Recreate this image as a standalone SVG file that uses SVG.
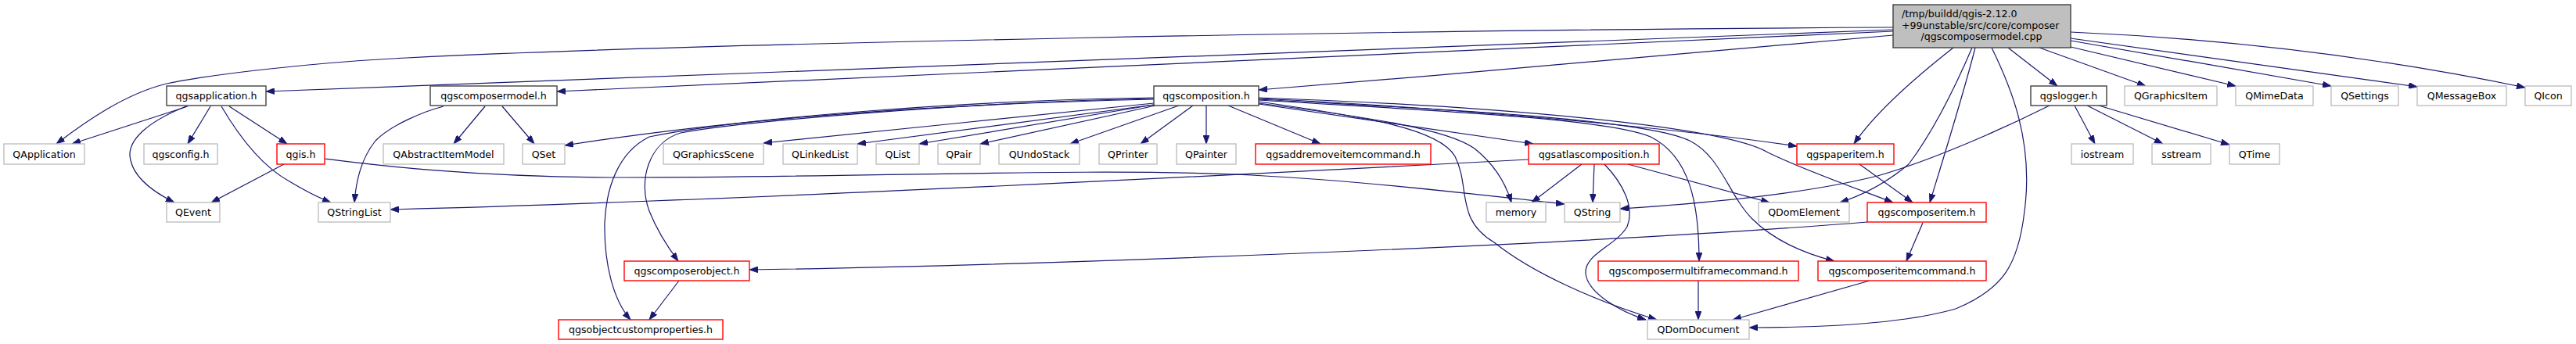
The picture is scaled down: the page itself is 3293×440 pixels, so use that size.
<svg xmlns="http://www.w3.org/2000/svg" width="3293" height="440" viewBox="0 0 3293 440">
<style>
.e{fill:none;stroke:#191970;stroke-width:1.2}
.n rect{fill:#ffffff;stroke-width:1.4}
.doc rect{stroke:#404040}
.grey rect{stroke:#bfbfbf}
.red rect{stroke:#ff0000}
.main rect{fill:#bfbfbf;stroke:#404040}
text{font-family:"DejaVu Sans","Liberation Sans",sans-serif;font-size:12.6px;fill:#000000;text-anchor:middle}
text.l{text-anchor:start}
</style>
<defs>
<marker id="arr" viewBox="0 0 11 8" markerWidth="11" markerHeight="8" refX="11" refY="4" orient="auto" markerUnits="userSpaceOnUse">
<path d="M0,0 L11,4 L0,8 z" fill="#191970" stroke="#191970" stroke-width="0.8"/>
</marker>
</defs>
<rect x="0" y="0" width="3293" height="440" fill="#ffffff"/>
<g id="edges" marker-end="url(#arr)">
<path class="e" d="M2420,35 C1800,38 900,55 520,74 C400,80 270,95 213,107 C160,120 110,155 72,184"/>
<path class="e" d="M2420,38 L340,117"/>
<path class="e" d="M2420,40 L712,117"/>
<path class="e" d="M2420,45 C2250,60 1900,92 1609,115"/>
<path class="e" d="M2497,61 C2460,90 2400,140 2370,184"/>
<path class="e" d="M2521,61 C2500,110 2470,170 2440,210 C2410,235 2380,250 2352,259"/>
<path class="e" d="M2525,61 C2510,120 2485,200 2467,259"/>
<path class="e" d="M2546,61 C2570,110 2600,180 2588,270 C2580,340 2560,370 2500,395 C2430,415 2320,419 2236,419"/>
<path class="e" d="M2567,61 L2630,110"/>
<path class="e" d="M2607,61 L2743,110"/>
<path class="e" d="M2647,60 L2858,110"/>
<path class="e" d="M2647,52 C2750,70 2880,92 2980,110"/>
<path class="e" d="M2647,49 C2800,70 2950,90 3090,111"/>
<path class="e" d="M2647,41 C2850,50 3050,75 3228,112"/>
<path class="e" d="M240,136 L92,184"/>
<path class="e" d="M238,136 C190,155 160,180 167,205 C172,228 195,245 223,259"/>
<path class="e" d="M269,136 L240,184"/>
<path class="e" d="M293,136 L367,184"/>
<path class="e" d="M283,136 C300,165 330,210 370,232 C390,244 405,252 423,259"/>
<path class="e" d="M363,210 L270,259"/>
<path class="e" d="M415,203 C470,210 600,227 800,227 C1100,227 1400,214 1600,224 C1750,232 1900,250 2000,261"/>
<path class="e" d="M1954,204 C1500,228 900,258 499,268"/>
<path class="e" d="M620,136 L580,184"/>
<path class="e" d="M642,136 L683,184"/>
<path class="e" d="M567,136 C540,143 500,160 480,180 C460,205 455,235 453,259"/>
<path class="e" d="M1475,127 C1200,133 950,150 722,186"/>
<path class="e" d="M1475,132 C1300,150 1150,165 976,183"/>
<path class="e" d="M1475,134 L1096,184"/>
<path class="e" d="M1475,134 L1175,184"/>
<path class="e" d="M1477,135 L1253,184"/>
<path class="e" d="M1507,135 L1368,184"/>
<path class="e" d="M1525,135 L1458,184"/>
<path class="e" d="M1542,135 L1542,184"/>
<path class="e" d="M1570,135 L1688,184"/>
<path class="e" d="M1609,133 L1960,184"/>
<path class="e" d="M1609,132 C1750,150 1850,165 1885,190 C1910,210 1925,235 1932,259"/>
<path class="e" d="M1609,130 C1750,150 1840,165 1860,200 C1880,240 1860,280 1910,310 C1960,350 2040,385 2118,409"/>
<path class="e" d="M1609,128 C1800,140 2050,150 2110,175 C2160,200 2172,260 2172,334"/>
<path class="e" d="M1609,127 C1800,138 2100,150 2160,180 C2200,200 2210,250 2240,280 C2270,310 2310,325 2345,334"/>
<path class="e" d="M1609,126 C1800,135 2100,158 2297,187"/>
<path class="e" d="M1609,125 C1900,135 2200,160 2260,195 C2300,215 2370,240 2420,259"/>
<path class="e" d="M1475,126 C1250,130 950,155 870,170 C830,182 815,230 830,270 C840,295 855,318 867,334"/>
<path class="e" d="M1475,125 C1250,128 950,150 830,175 C790,195 775,240 773,285 C772,340 785,385 806,409"/>
<path class="e" d="M2022,210 L1958,259"/>
<path class="e" d="M2038,210 L2036,259"/>
<path class="e" d="M2051,210 C2075,235 2090,265 2080,290 C2065,315 2025,325 2027,350 C2030,375 2070,398 2104,409"/>
<path class="e" d="M2081,210 L2262,259"/>
<path class="e" d="M2652,135 L2678,184"/>
<path class="e" d="M2668,135 L2765,184"/>
<path class="e" d="M2683,135 L2850,185"/>
<path class="e" d="M2620,135 C2560,165 2470,205 2400,225 C2300,250 2150,262 2071,267"/>
<path class="e" d="M2377,210 L2445,259"/>
<path class="e" d="M2458,285 L2437,334"/>
<path class="e" d="M2387,284 C2000,315 1300,340 958,345"/>
<path class="e" d="M868,359 L830,409"/>
<path class="e" d="M2171,359 L2171,409"/>
<path class="e" d="M2390,359 L2215,409"/>
</g>
<g id="node-main" class="n main"><rect x="2420" y="6" width="227" height="55"/><text class="l" x="2431" y="22">/tmp/buildd/qgis-2.12.0</text><text class="l" x="2431" y="37">+99unstable/src/core/composer</text><text x="2533" y="51">/qgscomposermodel.cpp</text></g>
<g id="node-qgsapplication" class="n doc"><rect x="213" y="110" width="127" height="25"/><text x="276.5" y="127">qgsapplication.h</text></g>
<g id="node-QApplication" class="n grey"><rect x="5" y="184" width="103" height="26"/><text x="56.5" y="201.5">QApplication</text></g>
<g id="node-qgsconfig" class="n grey"><rect x="184" y="184" width="94" height="26"/><text x="231" y="201.5">qgsconfig.h</text></g>
<g id="node-qgis" class="n red"><rect x="354" y="184" width="61" height="26"/><text x="384.5" y="201.5">qgis.h</text></g>
<g id="node-QEvent" class="n grey"><rect x="213" y="259" width="68" height="25"/><text x="247" y="276">QEvent</text></g>
<g id="node-QStringList" class="n grey"><rect x="407" y="259" width="92" height="25"/><text x="453" y="276">QStringList</text></g>
<g id="node-qgscomposermodel" class="n doc"><rect x="550" y="110" width="162" height="25"/><text x="631" y="127">qgscomposermodel.h</text></g>
<g id="node-QAbstractItemModel" class="n grey"><rect x="490" y="184" width="154" height="26"/><text x="567" y="201.5">QAbstractItemModel</text></g>
<g id="node-QSet" class="n grey"><rect x="668" y="184" width="54" height="26"/><text x="695" y="201.5">QSet</text></g>
<g id="node-QGraphicsScene" class="n grey"><rect x="848" y="184" width="128" height="26"/><text x="912" y="201.5">QGraphicsScene</text></g>
<g id="node-QLinkedList" class="n grey"><rect x="1001" y="184" width="95" height="26"/><text x="1048.5" y="201.5">QLinkedList</text></g>
<g id="node-QList" class="n grey"><rect x="1120" y="184" width="55" height="26"/><text x="1147.5" y="201.5">QList</text></g>
<g id="node-QPair" class="n grey"><rect x="1199" y="184" width="54" height="26"/><text x="1226" y="201.5">QPair</text></g>
<g id="node-QUndoStack" class="n grey"><rect x="1277" y="184" width="103" height="26"/><text x="1328.5" y="201.5">QUndoStack</text></g>
<g id="node-QPrinter" class="n grey"><rect x="1405" y="184" width="74" height="26"/><text x="1442" y="201.5">QPrinter</text></g>
<g id="node-QPainter" class="n grey"><rect x="1504" y="184" width="76" height="26"/><text x="1542" y="201.5">QPainter</text></g>
<g id="node-qgsaddremoveitemcommand" class="n red"><rect x="1605" y="184" width="224" height="26"/><text x="1717" y="201.5">qgsaddremoveitemcommand.h</text></g>
<g id="node-qgsatlascomposition" class="n red"><rect x="1954" y="184" width="167" height="26"/><text x="2037.5" y="201.5">qgsatlascomposition.h</text></g>
<g id="node-qgspaperitem" class="n red"><rect x="2297" y="184" width="124" height="26"/><text x="2359" y="201.5">qgspaperitem.h</text></g>
<g id="node-iostream" class="n grey"><rect x="2648" y="184" width="79" height="26"/><text x="2687.5" y="201.5">iostream</text></g>
<g id="node-sstream" class="n grey"><rect x="2751" y="184" width="75" height="26"/><text x="2788.5" y="201.5">sstream</text></g>
<g id="node-QTime" class="n grey"><rect x="2850" y="184" width="64" height="26"/><text x="2882" y="201.5">QTime</text></g>
<g id="node-qgscomposition" class="n doc"><rect x="1475" y="110" width="134" height="25"/><text x="1542" y="127">qgscomposition.h</text></g>
<g id="node-qgslogger" class="n doc"><rect x="2596" y="110" width="97" height="25"/><text x="2644.5" y="127">qgslogger.h</text></g>
<g id="node-QGraphicsItem" class="n grey"><rect x="2716" y="110" width="118" height="25"/><text x="2775" y="127">QGraphicsItem</text></g>
<g id="node-QMimeData" class="n grey"><rect x="2858" y="110" width="99" height="25"/><text x="2907.5" y="127">QMimeData</text></g>
<g id="node-QSettings" class="n grey"><rect x="2980" y="110" width="86" height="25"/><text x="3023" y="127">QSettings</text></g>
<g id="node-QMessageBox" class="n grey"><rect x="3090" y="110" width="114" height="25"/><text x="3147" y="127">QMessageBox</text></g>
<g id="node-QIcon" class="n grey"><rect x="3228" y="110" width="59" height="25"/><text x="3257.5" y="127">QIcon</text></g>
<g id="node-memory" class="n grey"><rect x="1900" y="259" width="76" height="25"/><text x="1938" y="276">memory</text></g>
<g id="node-QString" class="n grey"><rect x="2000" y="259" width="71" height="25"/><text x="2035.5" y="276">QString</text></g>
<g id="node-QDomElement" class="n grey"><rect x="2248" y="259" width="116" height="25"/><text x="2306" y="276">QDomElement</text></g>
<g id="node-qgscomposeritem" class="n red"><rect x="2387" y="259" width="152" height="25"/><text x="2463" y="276">qgscomposeritem.h</text></g>
<g id="node-qgscomposerobject" class="n red"><rect x="798" y="334" width="160" height="25"/><text x="878" y="351">qgscomposerobject.h</text></g>
<g id="node-qgscomposermultiframecommand" class="n red"><rect x="2043" y="334" width="256" height="25"/><text x="2171" y="351">qgscomposermultiframecommand.h</text></g>
<g id="node-qgscomposeritemcommand" class="n red"><rect x="2324" y="334" width="215" height="25"/><text x="2431.5" y="351">qgscomposeritemcommand.h</text></g>
<g id="node-qgsobjectcustomproperties" class="n red"><rect x="714" y="409" width="210" height="25"/><text x="819" y="426">qgsobjectcustomproperties.h</text></g>
<g id="node-QDomDocument" class="n grey"><rect x="2106" y="409" width="130" height="25"/><text x="2171" y="426">QDomDocument</text></g>
</svg>
